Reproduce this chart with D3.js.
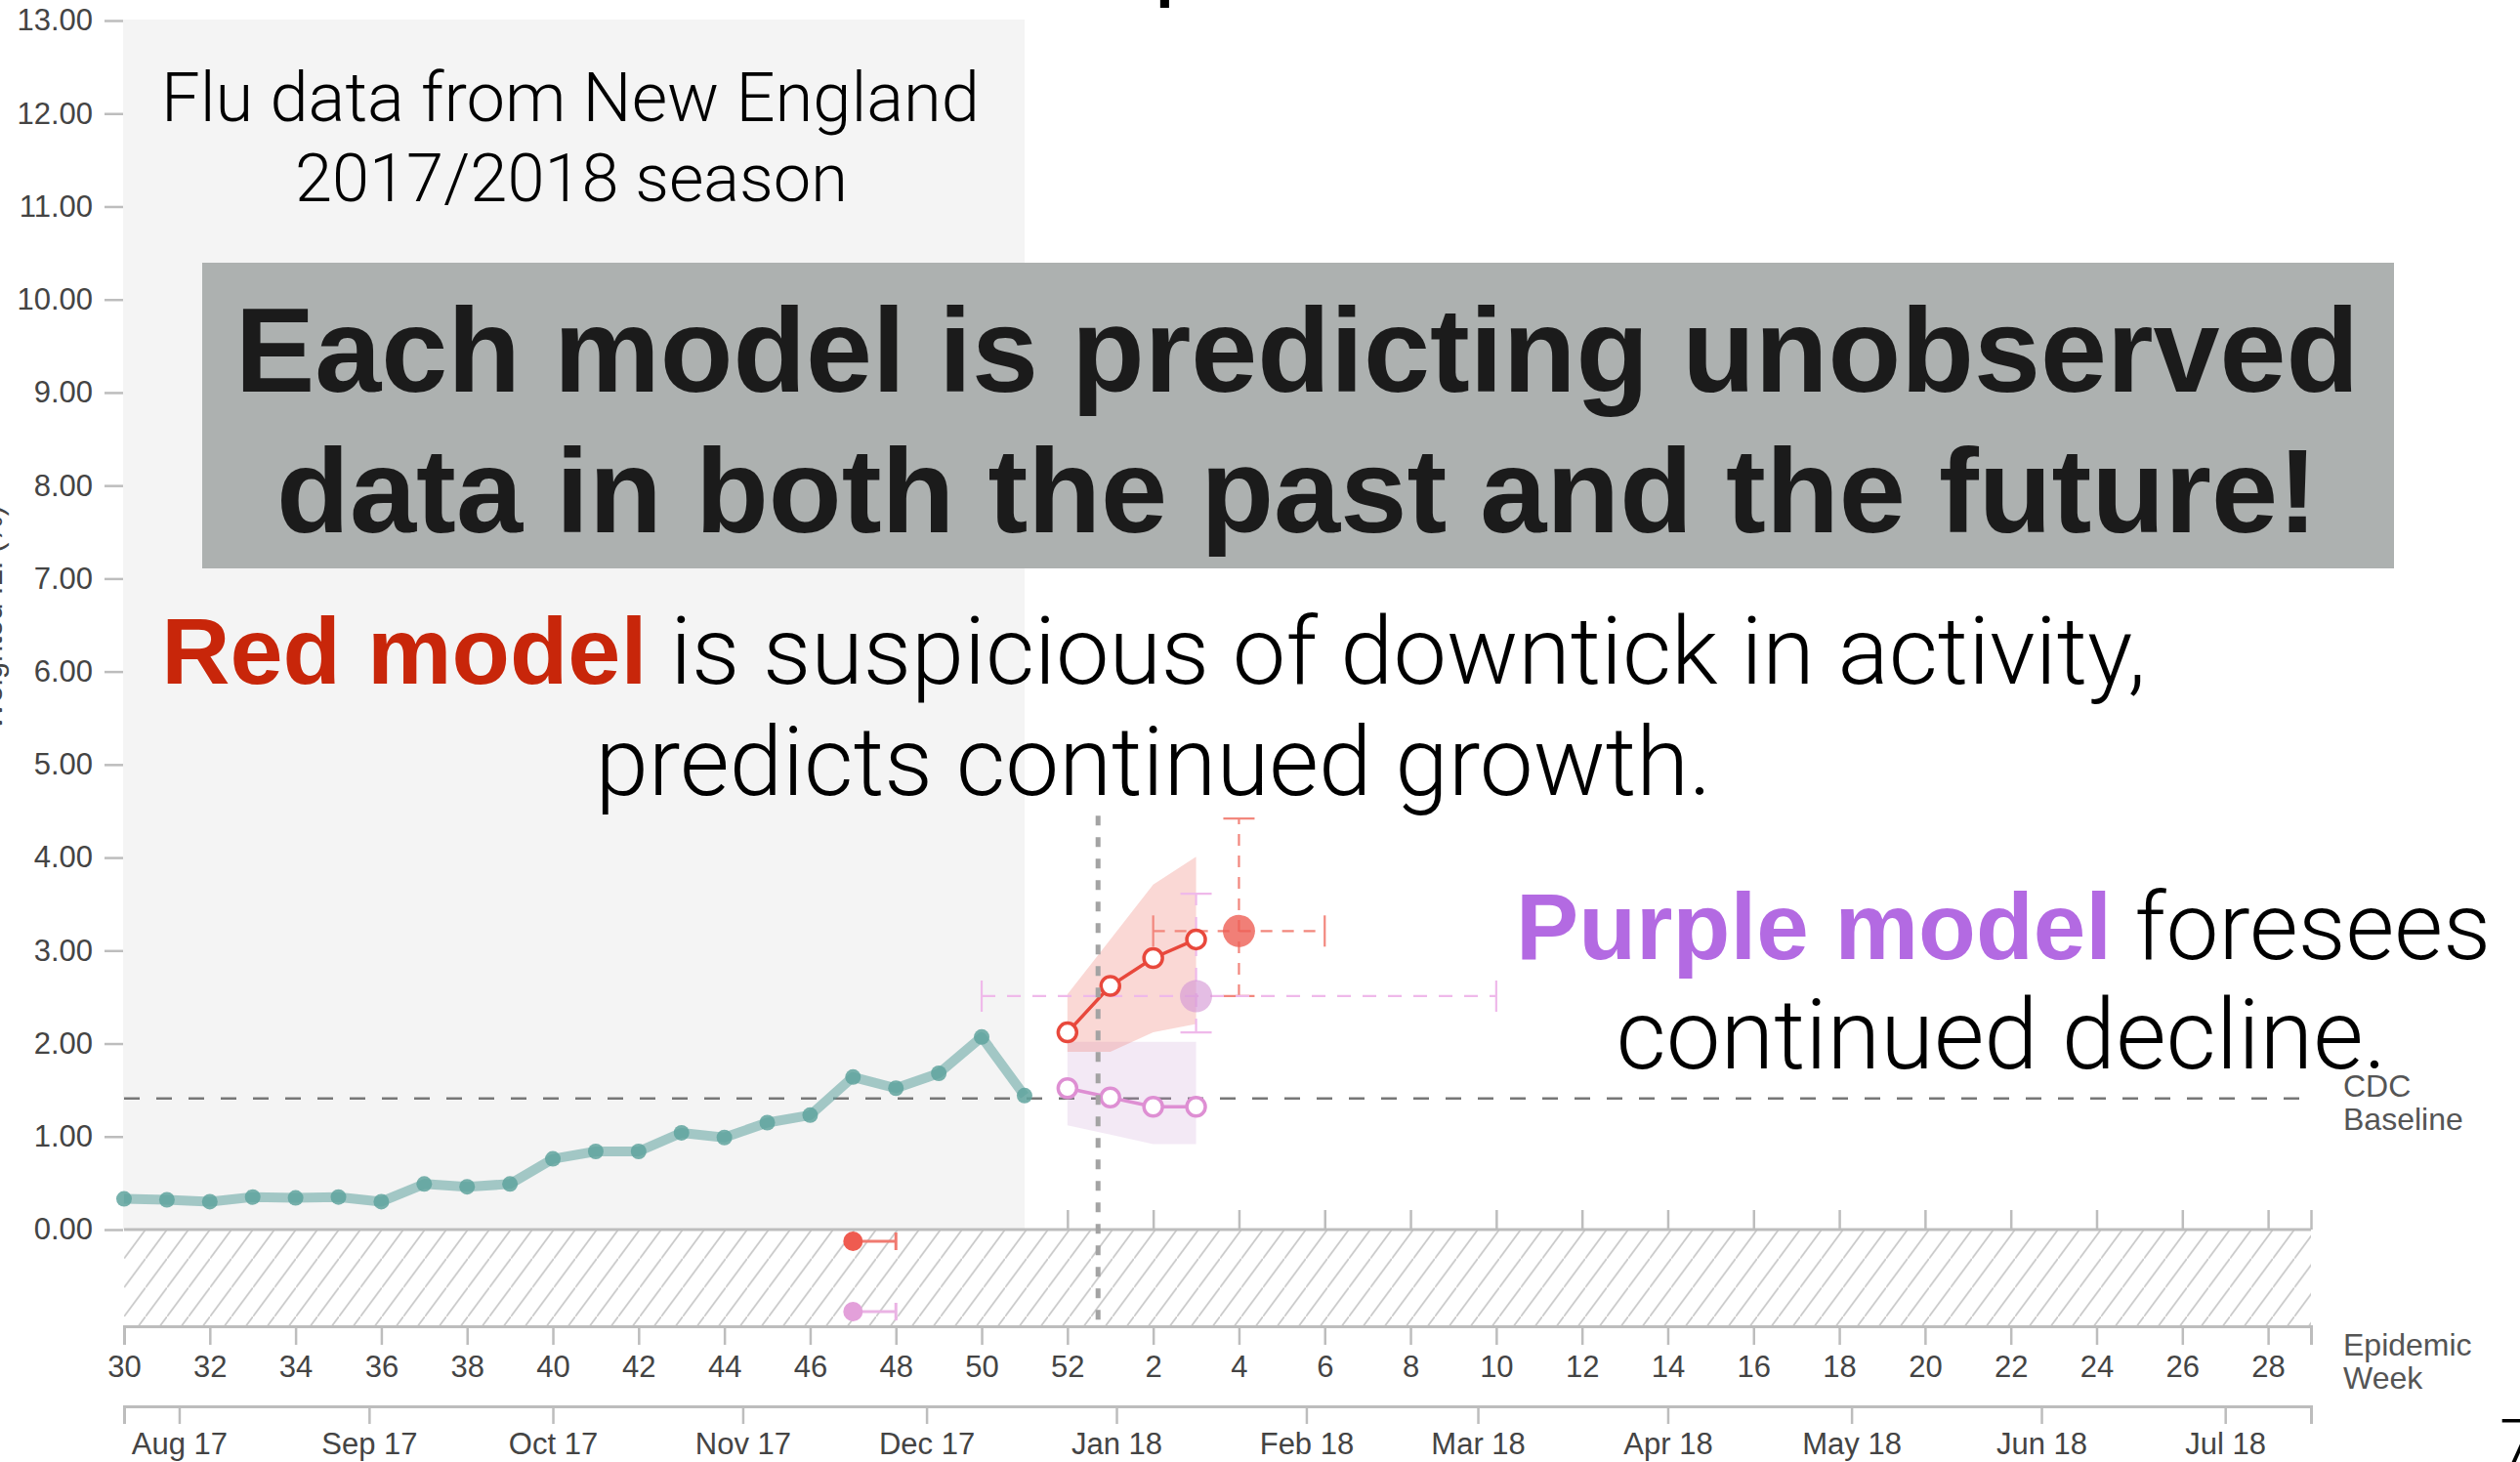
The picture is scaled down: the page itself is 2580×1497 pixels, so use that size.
<!DOCTYPE html>
<html>
<head>
<meta charset="utf-8">
<script src="https://cdn.jsdelivr.net/npm/d3@7"></script>
<style>
  body { margin: 0; background: #ffffff; }
  svg { display: block; }
</style>
</head>
<body>
<svg id="chart" width="2580" height="1497"></svg>
<script>
// epidemic weeks of the 2017/2018 season (week 29 is the end of the axis)
const epiWeeks = [30, 31, 32, 33, 34, 35, 36, 37, 38, 39, 40, 41, 42, 43, 44, 45, 46, 47, 48, 49, 50, 51, 52,
  1, 2, 3, 4, 5, 6, 7, 8, 9, 10, 11, 12, 13, 14, 15, 16, 17, 18, 19, 20, 21, 22, 23, 24, 25, 26, 27, 28, 29];
const tickWeeks = [30, 32, 34, 36, 38, 40, 42, 44, 46, 48, 50, 52, 2, 4, 6, 8, 10, 12, 14, 16, 18, 20, 22, 24, 26, 28];
const yTicks = [0, 1, 2, 3, 4, 5, 6, 7, 8, 9, 10, 11, 12, 13];

// observed weighted ILI (%)
const observedWeeks = [30, 31, 32, 33, 34, 35, 36, 37, 38, 39, 40, 41, 42, 43, 44, 45, 46, 47, 48, 49, 50, 51];
const observedILI = [0.33, 0.32, 0.30, 0.35, 0.34, 0.35, 0.30, 0.49, 0.46, 0.49, 0.76, 0.84, 0.84, 1.04, 0.99, 1.15, 1.23, 1.64, 1.52, 1.68, 2.07, 1.44];

// short term forecasts
const forecastWeeks = [52, 1, 2, 3];
const redPoint = [2.12, 2.62, 2.92, 3.12];
const redLow = [1.91, 1.91, 2.12, 2.21];
const redHigh = [2.53, 3.12, 3.71, 4.01];
const purplePoint = [1.52, 1.42, 1.32, 1.32];
const purpleLow = [1.12, 1.02, 0.92, 0.92];
const purpleHigh = [2.02, 2.02, 2.02, 2.02];

// peak forecasts: [red, purple]
const peakModels = ['red', 'purple'];
const peakWeek = [4, 3];
const peakWeekLow = [2, 50];
const peakWeekHigh = [6, 10];
const peakValue = [3.21, 2.51];
const peakValueLow = [2.51, 2.12];
const peakValueHigh = [4.42, 3.61];

// onset forecasts: [red, purple]
const onsetWeek = [47, 47];
const onsetWeekHigh = [48, 48];

const cdcBaseline = 1.41;
const seasonStart = new Date(2017, 6, 23);
const seasonEnd = new Date(2018, 6, 15);
const nowDate = new Date(2017, 11, 29);
const nowLineTop = 4.45;

const modelColor = { red: '#e8483c', purple: '#de8fd3' };
const peakFill = { red: '#ee5f55', purple: '#d69ad6' };
const errColor = { red: '#f2877d', purple: '#efb9ea' };
const onsetFill = { red: '#ef5b50', purple: '#e3a0da' };
const onsetLine = { red: '#f07a70', purple: '#eab3e4' };

const AXIS_FONT = '"Helvetica Neue", "Liberation Sans", Arial, sans-serif';
const LIGHT_FONT = 'Roboto, "Helvetica Neue", "Liberation Sans", sans-serif';
const BOLD_FONT = '"Liberation Sans", "Helvetica Neue", Arial, sans-serif';

// plot frame
const X0 = 127, X1 = 2366, Y0 = 1259, YTOP = 21;
const HATCH_BOTTOM = 1358;
const MONTH_AXIS_Y = 1440;

const svg = d3.select('#chart');

const x = d3.scalePoint().domain(epiWeeks).range([X0, X1]);
const xTime = d3.scaleTime().domain([seasonStart, seasonEnd]).range([X0, X1]);
const y = d3.scaleLinear().domain([0, 13]).range([Y0, YTOP]);
const onsetRow = d3.scalePoint().domain(peakModels).range([Y0 + 12, Y0 + 84]);

// hatch pattern for the onset strip
const defs = svg.append('defs');
const hatchW = 22, hatchH = 29.7;
const hatch = defs.append('pattern')
  .attr('id', 'hatch')
  .attr('patternUnits', 'userSpaceOnUse')
  .attr('x', X0).attr('y', Y0)
  .attr('width', hatchW).attr('height', hatchH);
hatch.append('path')
  .attr('d', `M-2,${hatchH + 2.7}L${hatchW + 2},${-2.7}`)
  .attr('stroke', '#c9c9c9')
  .attr('stroke-width', 1.8);

// axis look
function styleAxis(g, size) {
  g.select('.domain').attr('stroke', '#bdbdbd').attr('stroke-width', 3);
  g.selectAll('.tick line').attr('stroke', '#bdbdbd').attr('stroke-width', 2.5);
  g.selectAll('.tick text')
    .attr('fill', '#444')
    .style('font-family', AXIS_FONT)
    .style('font-size', (size || 31) + 'px');
}

// upward ticks on the zero line (only visible in the future part)
const topWeeks = tickWeeks.filter((w) => x(w) >= x(52)).concat([29]);
const topAxis = svg.append('g')
  .attr('transform', `translate(0,${Y0})`)
  .call(d3.axisTop(x).tickValues(topWeeks).tickFormat('').tickSize(20).tickSizeOuter(0));
styleAxis(topAxis);
topAxis.select('.domain').remove();

// observed region background
svg.append('rect')
  .attr('x', x(30) - 1)
  .attr('y', y(13) - 1)
  .attr('width', x(51) - x(30) + 1)
  .attr('height', y(0) - y(13) + 1)
  .attr('fill', '#f4f4f4');

// onset strip
svg.append('rect')
  .attr('x', X0).attr('y', Y0)
  .attr('width', X1 - X0).attr('height', HATCH_BOTTOM - Y0)
  .attr('fill', 'url(#hatch)');

svg.append('line')
  .attr('x1', X0).attr('x2', X1)
  .attr('y1', y(0)).attr('y2', y(0))
  .attr('stroke', '#bdbdbd')
  .attr('stroke-width', 3);

// CDC baseline
svg.append('line')
  .attr('x1', x(30)).attr('x2', x(29))
  .attr('y1', y(cdcBaseline)).attr('y2', y(cdcBaseline))
  .attr('stroke', '#777')
  .attr('stroke-width', 2.6)
  .attr('stroke-dasharray', '16,17');

// observed line
const observed = observedWeeks.map((w, i) => ({ week: w, value: observedILI[i] }));
const line = d3.line().x((d) => x(d.week)).y((d) => y(d.value));
const area = d3.area().x((d) => x(d.week)).y0((d) => y(d.lo)).y1((d) => y(d.hi));

svg.append('path')
  .datum(observed)
  .attr('d', line)
  .attr('fill', 'none')
  .attr('stroke', '#5fa39e')
  .attr('stroke-width', 10)
  .attr('stroke-linejoin', 'round')
  .attr('opacity', 0.55);

svg.append('g').selectAll('circle')
  .data(observed)
  .enter()
  .append('circle')
  .attr('cx', (d) => x(d.week))
  .attr('cy', (d) => y(d.value))
  .attr('r', 8)
  .attr('fill', '#5fa39e')
  .attr('opacity', 0.85);

// forecast bands, lines and points
const forecasts = {
  purple: forecastWeeks.map((w, i) => ({ week: w, value: purplePoint[i], lo: purpleLow[i], hi: purpleHigh[i] })),
  red: forecastWeeks.map((w, i) => ({ week: w, value: redPoint[i], lo: redLow[i], hi: redHigh[i] }))
};

svg.append('path')
  .datum(forecasts.purple)
  .attr('d', area)
  .attr('fill', '#c58fcb')
  .attr('opacity', 0.2);

svg.append('path')
  .datum(forecasts.red)
  .attr('d', area)
  .attr('fill', '#ee7f73')
  .attr('opacity', 0.3);

// peak error bars
const peaks = peakModels.map((m, i) => ({
  model: m, week: peakWeek[i], wLo: peakWeekLow[i], wHi: peakWeekHigh[i],
  value: peakValue[i], vLo: peakValueLow[i], vHi: peakValueHigh[i]
}));
const CAP = 16;

peaks.forEach((p) => {
  const g = svg.append('g').attr('class', `peak-${p.model}`);
  const dash = p.model === 'red' ? '12,10' : '14,12';
  g.append('line')
    .attr('x1', x(p.week)).attr('x2', x(p.week))
    .attr('y1', y(p.vLo)).attr('y2', y(p.vHi))
    .attr('stroke', errColor[p.model]).attr('stroke-width', 2.2)
    .attr('stroke-dasharray', dash);
  g.append('line')
    .attr('x1', x(p.wLo)).attr('x2', x(p.wHi))
    .attr('y1', y(p.value)).attr('y2', y(p.value))
    .attr('stroke', errColor[p.model]).attr('stroke-width', 2.2)
    .attr('stroke-dasharray', dash);
  [p.vLo, p.vHi].forEach((v) => {
    g.append('line')
      .attr('x1', x(p.week) - CAP).attr('x2', x(p.week) + CAP)
      .attr('y1', y(v)).attr('y2', y(v))
      .attr('stroke', errColor[p.model]).attr('stroke-width', 2.2);
  });
  [p.wLo, p.wHi].forEach((w) => {
    g.append('line')
      .attr('x1', x(w)).attr('x2', x(w))
      .attr('y1', y(p.value) - CAP).attr('y2', y(p.value) + CAP)
      .attr('stroke', errColor[p.model]).attr('stroke-width', 2.2);
  });
});

['purple', 'red'].forEach((m) => {
  svg.append('path')
    .datum(forecasts[m])
    .attr('d', line)
    .attr('fill', 'none')
    .attr('stroke', modelColor[m])
    .attr('stroke-width', 3.5);
  svg.append('g').selectAll('circle')
    .data(forecasts[m])
    .enter()
    .append('circle')
    .attr('cx', (d) => x(d.week))
    .attr('cy', (d) => y(d.value))
    .attr('r', 9.5)
    .attr('fill', '#fff')
    .attr('stroke', modelColor[m])
    .attr('stroke-width', 3.5);
});

svg.append('g').selectAll('circle')
  .data(peaks)
  .enter()
  .append('circle')
  .attr('cx', (d) => x(d.week))
  .attr('cy', (d) => y(d.value))
  .attr('r', 16.5)
  .attr('fill', (d) => peakFill[d.model])
  .attr('opacity', (d) => d.model === 'red' ? 0.8 : 0.65);

// onset markers in the hatched strip
const onsets = peakModels.map((m, i) => ({ model: m, week: onsetWeek[i], hi: onsetWeekHigh[i] }));
const onsetG = svg.append('g');
onsets.forEach((o) => {
  onsetG.append('line')
    .attr('x1', x(o.week)).attr('x2', x(o.hi))
    .attr('y1', onsetRow(o.model)).attr('y2', onsetRow(o.model))
    .attr('stroke', onsetLine[o.model]).attr('stroke-width', 3);
  onsetG.append('line')
    .attr('x1', x(o.hi)).attr('x2', x(o.hi))
    .attr('y1', onsetRow(o.model) - 9).attr('y2', onsetRow(o.model) + 9)
    .attr('stroke', onsetLine[o.model]).attr('stroke-width', 3);
  onsetG.append('circle')
    .attr('cx', x(o.week))
    .attr('cy', onsetRow(o.model))
    .attr('r', 10)
    .attr('fill', onsetFill[o.model]);
});

// current week marker
svg.append('line')
  .attr('x1', xTime(nowDate)).attr('x2', xTime(nowDate))
  .attr('y1', y(nowLineTop)).attr('y2', HATCH_BOTTOM)
  .attr('stroke', '#a3a3a3')
  .attr('stroke-width', 5)
  .attr('stroke-dasharray', '10,12');

// axes
const yAxis = svg.append('g')
  .attr('transform', `translate(${X0 - 1},0)`)
  .call(d3.axisLeft(y).tickValues(yTicks).tickFormat(d3.format('.2f')).tickSize(19).tickPadding(12));
styleAxis(yAxis);
yAxis.select('.domain').remove();

const weekAxis = svg.append('g')
  .attr('transform', `translate(0,${HATCH_BOTTOM})`)
  .call(d3.axisBottom(x).tickValues(tickWeeks).tickSize(19).tickSizeOuter(19).tickPadding(11));
styleAxis(weekAxis);

const monthAxis = svg.append('g')
  .attr('transform', `translate(0,${MONTH_AXIS_Y})`)
  .call(d3.axisBottom(xTime).ticks(d3.timeMonth.every(1)).tickFormat(d3.timeFormat('%b %y'))
    .tickSize(18).tickSizeOuter(18).tickPadding(9));
styleAxis(monthAxis);

// side labels
function sideLabel(lines, yFirst) {
  svg.append('text')
    .attr('x', X1 + 33)
    .attr('y', yFirst)
    .attr('fill', '#555')
    .style('font-family', AXIS_FONT)
    .style('font-size', '32px')
    .selectAll('tspan')
    .data(lines)
    .enter()
    .append('tspan')
    .attr('x', X1 + 33)
    .attr('dy', (d, i) => i === 0 ? 0 : 34)
    .text((d) => d);
}
sideLabel(['CDC', 'Baseline'], 1123);
sideLabel(['Epidemic', 'Week'], 1388);

svg.append('text')
  .attr('transform', 'translate(2,633) rotate(-90)')
  .attr('text-anchor', 'middle')
  .attr('fill', '#444')
  .style('font-family', AXIS_FONT)
  .style('font-size', '31px')
  .text('Weighted ILI (%)');

// slide annotations, each line scaled to the width it has on the slide
function fitLine(parts, cx, baseline, width) {
  const t = svg.append('text')
    .attr('x', cx)
    .attr('y', baseline)
    .attr('text-anchor', 'middle')
    .style('font-size', '100px');
  parts.forEach((p) => {
    t.append('tspan')
      .style('font-family', p.bold ? BOLD_FONT : LIGHT_FONT)
      .style('font-weight', p.bold ? 700 : 300)
      .attr('fill', p.color || '#000')
      .text(p.text);
  });
  const w = t.node().getBBox().width;
  t.style('font-size', (100 * width / w) + 'px');
  return t;
}

fitLine([{ text: 'Flu data from New England' }], 584, 124, 838);
fitLine([{ text: '2017/2018 season' }], 585, 206, 566);

svg.append('rect')
  .attr('x', 207).attr('y', 269)
  .attr('width', 2244).attr('height', 313)
  .attr('fill', '#adb1b0');

fitLine([{ text: 'Each model is predicting unobserved', bold: true, color: '#1b1b1b' }], 1328, 401, 2175);
fitLine([{ text: 'data in both the past and the future!', bold: true, color: '#1b1b1b' }], 1328, 545, 2090);

fitLine([{ text: 'Red model', bold: true, color: '#c8260a' }, { text: ' is suspicious of downtick in activity,' }], 1181, 700, 2032);
fitLine([{ text: 'predicts continued growth.' }], 1181, 814, 1143);

fitLine([{ text: 'Purple model', bold: true, color: '#b36ae2' }, { text: ' foresees' }], 2051, 982, 998);
fitLine([{ text: 'continued decline.' }], 2049, 1094, 789);

svg.append('text')
  .attr('x', 2559).attr('y', 1503)
  .style('font-family', LIGHT_FONT)
  .style('font-weight', 300)
  .style('font-size', '70px')
  .text('7');

svg.append('text')
  .attr('x', 1181).attr('y', -12)
  .style('font-family', LIGHT_FONT)
  .style('font-size', '100px')
  .text('p');
</script>
</body>
</html>
